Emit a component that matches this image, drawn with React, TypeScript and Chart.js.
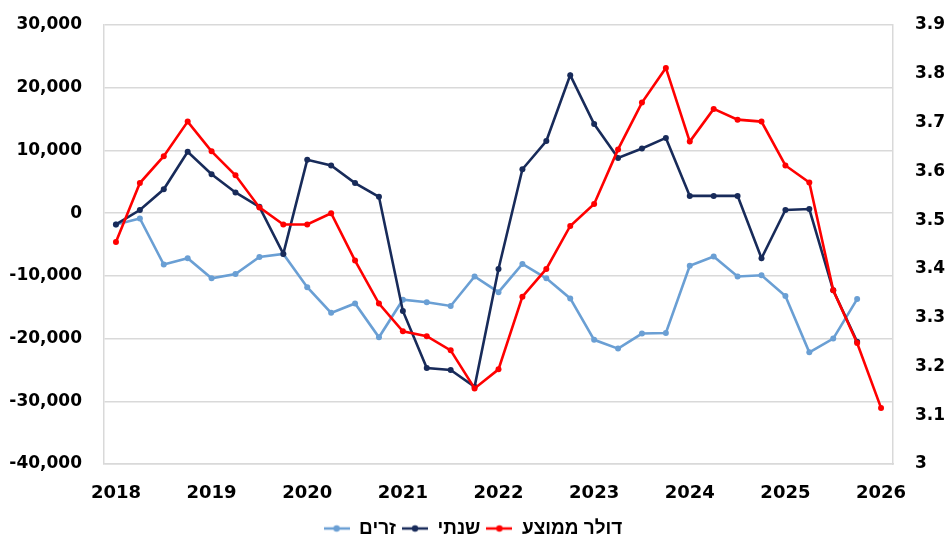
import React, { useEffect, useRef } from "react";
import { Chart, registerables } from "chart.js";

Chart.register(...registerables);

const quarters: string[] = [
  "2018Q1", "2018Q2", "2018Q3", "2018Q4",
  "2019Q1", "2019Q2", "2019Q3", "2019Q4",
  "2020Q1", "2020Q2", "2020Q3", "2020Q4",
  "2021Q1", "2021Q2", "2021Q3", "2021Q4",
  "2022Q1", "2022Q2", "2022Q3", "2022Q4",
  "2023Q1", "2023Q2", "2023Q3", "2023Q4",
  "2024Q1", "2024Q2", "2024Q3", "2024Q4",
  "2025Q1", "2025Q2", "2025Q3", "2025Q4",
  "2026Q1",
];

// זרים (left axis)
const foreigners: (number | null)[] = [
  -1800, -850, -8200, -7200, -10400, -9700, -7000, -6500,
  -11800, -15900, -14400, -19800, -13800, -14200, -14800, -10100,
  -12600, -8100, -10400, -13600, -20200, -21600, -19200, -19100,
  -8400, -6900, -10100, -9900, -13200, -22200, -20000, -13700,
  null,
];

// שנתי (left axis)
const annual: (number | null)[] = [
  -1800, 500, 3800, 9800, 6200, 3300, 1000, -6500,
  8500, 7600, 4800, 2600, -15600, -24700, -25000, -27700,
  -8900, 7000, 11500, 22000, 14200, 8800, 10300, 12000,
  2750, 2750, 2750, -7200, 500, 650, -12300, -20500,
  null,
];

// דולר ממוצע (right axis)
const avgDollar: number[] = [
  3.455, 3.576, 3.631, 3.702, 3.641, 3.592, 3.526, 3.491,
  3.491, 3.514, 3.417, 3.329, 3.272, 3.262, 3.233, 3.155,
  3.194, 3.343, 3.400, 3.488, 3.533, 3.645, 3.741, 3.812,
  3.661, 3.728, 3.706, 3.702, 3.612, 3.577, 3.356, 3.248,
  3.115,
];

const COLOR_RED = "#ff0000";
const COLOR_NAVY = "#182b5a";
const COLOR_LIGHT = "#6a9fd4";
const GRID = "#d9d9d9";

function makeMarker(color: string): HTMLCanvasElement {
  const c = document.createElement("canvas");
  c.width = 26;
  c.height = 10;
  const ctx = c.getContext("2d")!;
  ctx.strokeStyle = color;
  ctx.lineWidth = 2.5;
  ctx.beginPath();
  ctx.moveTo(0, 5);
  ctx.lineTo(26, 5);
  ctx.stroke();
  ctx.fillStyle = color;
  ctx.beginPath();
  ctx.arc(13, 5, 3.2, 0, Math.PI * 2);
  ctx.fill();
  return c;
}

export default function App() {
  const ref = useRef<HTMLCanvasElement | null>(null);

  useEffect(() => {
    if (!ref.current) return;
    const markers = [makeMarker(COLOR_RED), makeMarker(COLOR_NAVY), makeMarker(COLOR_LIGHT)];
    const chart = new Chart(ref.current, {
      type: "line",
      data: {
        labels: quarters,
        datasets: [
          {
            label: "דולר ממוצע",
            data: avgDollar,
            yAxisID: "yR",
            borderColor: COLOR_RED,
            backgroundColor: COLOR_RED,
            borderWidth: 2.6,
            pointRadius: 3,
            pointBorderWidth: 0,
            tension: 0,
          },
          {
            label: "שנתי",
            data: annual,
            yAxisID: "yL",
            borderColor: COLOR_NAVY,
            backgroundColor: COLOR_NAVY,
            borderWidth: 2.6,
            pointRadius: 3,
            pointBorderWidth: 0,
            tension: 0,
          },
          {
            label: "זרים",
            data: foreigners,
            yAxisID: "yL",
            borderColor: COLOR_LIGHT,
            backgroundColor: COLOR_LIGHT,
            borderWidth: 2.6,
            pointRadius: 3,
            pointBorderWidth: 0,
            tension: 0,
          },
        ],
      },
      options: {
        animation: false,
        responsive: false,
        maintainAspectRatio: false,
        layout: { padding: { top: 25, left: 0, right: 0, bottom: -6 } },
        plugins: {
          tooltip: { enabled: false },
          legend: {
            position: "bottom",
            reverse: true,
            labels: {
              usePointStyle: true,
              pointStyleWidth: 26,
              boxHeight: 10,
              padding: 6,
              color: "#000",
              font: { family: "'Liberation Sans', Arial, sans-serif", size: 19, weight: "bold" },
              generateLabels: (ch: any) =>
                ch.data.datasets.map((ds: any, i: number) => ({
                  text: ds.label,
                  fillStyle: ds.borderColor,
                  strokeStyle: ds.borderColor,
                  lineWidth: 0,
                  pointStyle: markers[i],
                  hidden: false,
                  datasetIndex: i,
                  fontColor: "#000",
                })),
            },
          },
        },
        scales: {
          x: {
            type: "category",
            offset: true,
            grid: { display: false, drawTicks: false },
            border: { display: true, color: GRID, width: 1.5 },
            ticks: {
              autoSkip: false,
              maxRotation: 0,
              padding: 19,
              color: "#000",
              font: { family: "'DejaVu Sans', sans-serif", size: 18, weight: "bold" },
              callback: (_v: any, i: number) => (i % 4 === 0 ? quarters[i].slice(0, 4) : ""),
            },
            afterFit: (s: any) => {
              s.height = 49;
            },
          },
          yL: {
            type: "linear",
            position: "left",
            min: -40000,
            max: 30000,
            grid: { color: GRID, lineWidth: 1.5, drawTicks: false },
            border: { display: true, color: GRID, width: 1.5 },
            ticks: {
              stepSize: 10000,
              padding: 22,
              color: "#000",
              font: { family: "'DejaVu Sans', sans-serif", size: 17, weight: "bold" },
              callback: (v: any) => Number(v).toLocaleString("en-US"),
            },
            afterFit: (s: any) => {
              s.width = 104;
              s.paddingTop = 0;
              s.paddingBottom = 0;
            },
          },
          yR: {
            type: "linear",
            position: "right",
            min: 3,
            max: 3.9,
            grid: { display: false, drawTicks: false },
            border: { display: true, color: GRID, width: 1.5 },
            ticks: {
              stepSize: 0.1,
              padding: 22,
              color: "#000",
              font: { family: "'DejaVu Sans', sans-serif", size: 17, weight: "bold" },
              callback: (v: any) => String(Math.round(Number(v) * 10) / 10),
            },
            afterFit: (s: any) => {
              s.width = 53;
              s.paddingTop = 0;
              s.paddingBottom = 0;
            },
          },
        },
      },
    } as any);
    return () => chart.destroy();
  }, []);

  return (
    <div style={{ position: "fixed", left: 0, top: 0, width: 946, height: 542, background: "#fff" }}>
      <canvas ref={ref} width={946} height={542} style={{ width: 946, height: 542 }} />
    </div>
  );
}
